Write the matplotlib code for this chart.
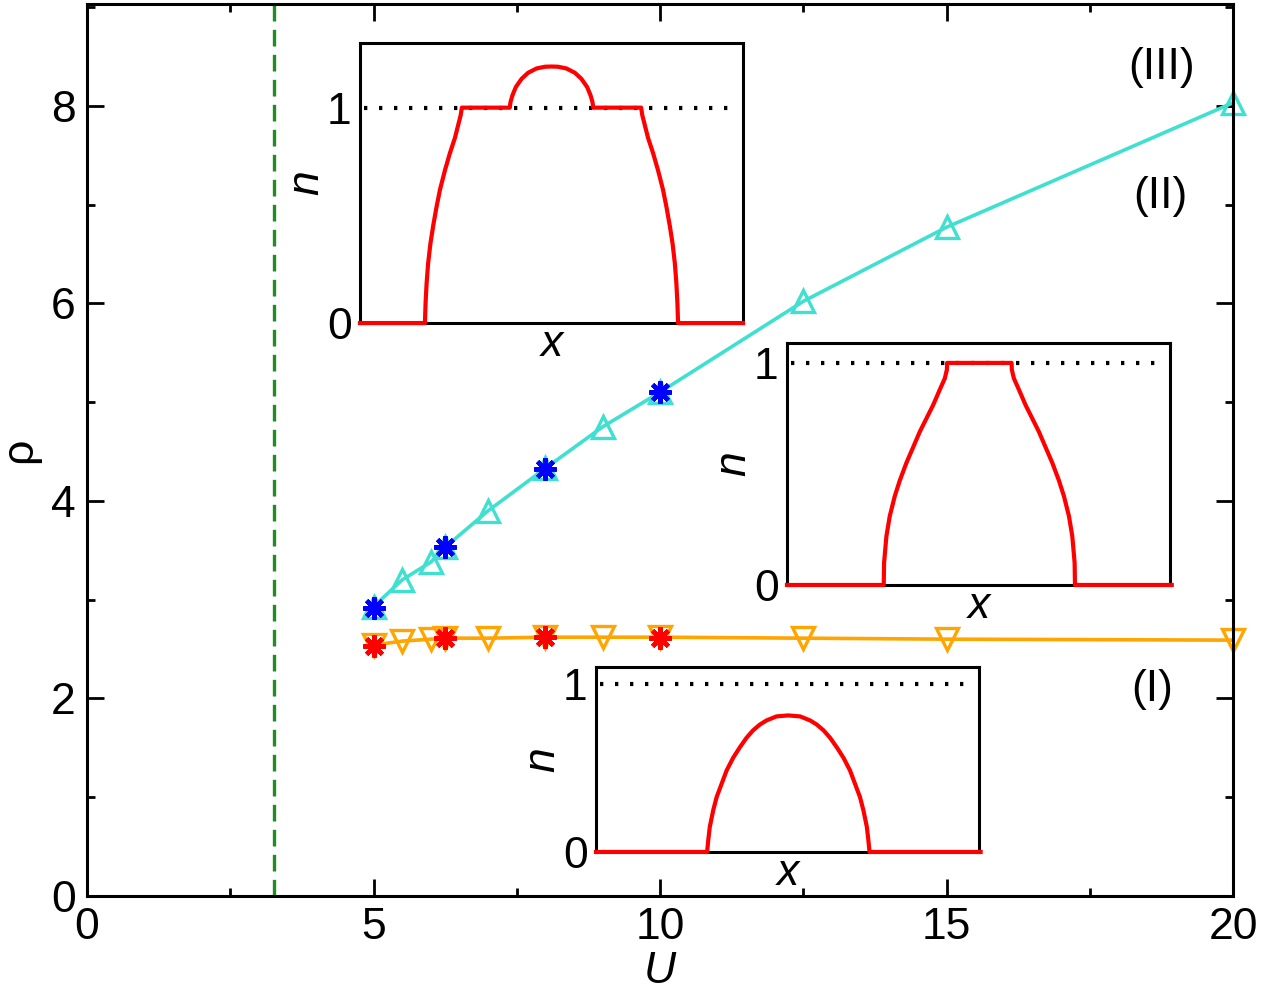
import matplotlib.pyplot as plt
from matplotlib.ticker import MultipleLocator

plt.rcParams['font.family'] = ['Liberation Sans', 'DejaVu Sans']

# main panel data
U_up = [5, 5.5, 6, 6.25, 7, 8, 9, 10, 12.5, 15, 20]
rho_up = [2.93, 3.2, 3.38, 3.53, 3.9, 4.33, 4.75, 5.1, 6.02, 6.77, 8.03]
U_down = [5, 5.5, 6, 6.25, 7, 8, 9, 10, 12.5, 15, 20]
rho_down = [2.54, 2.58, 2.6, 2.61, 2.61, 2.62, 2.62, 2.62, 2.61, 2.6, 2.59]
U_star = [5, 6.25, 8, 10]
rho_star_hi = [2.92, 3.53, 4.32, 5.10]
rho_star_lo = [2.53, 2.61, 2.62, 2.61]
U_crit = 3.27

# inset profiles, left halves (x as fraction of box width);
# the profiles are mirror symmetric so the right half reuses the same numbers
x1_left = [0, 0.1696, 0.1713, 0.174, 0.178, 0.184, 0.191, 0.2, 0.209, 0.222, 0.235, 0.248,
           0.2565, 0.263, 0.266, 0.391, 0.393, 0.398, 0.407, 0.422, 0.439, 0.461, 0.483, 0.5]
n1_left = [0, 0, 0.093, 0.185, 0.278, 0.37, 0.45, 0.54, 0.62, 0.71, 0.79, 0.86,
           0.92, 0.965, 1.0, 1.0, 1.026, 1.057, 1.096, 1.134, 1.162, 1.182, 1.19, 1.191]
x2_left = [0, 0.2526, 0.2535, 0.2596, 0.2683, 0.2814, 0.2944, 0.3118, 0.3293, 0.3467,
           0.3641, 0.3815, 0.399, 0.412, 0.4175, 0.418, 0.5022]
n2_left = [0, 0, 0.1, 0.22, 0.31, 0.40, 0.47, 0.55, 0.62, 0.69,
           0.75, 0.81, 0.88, 0.93, 0.97, 1.0, 1.0]
x3_left = [0, 0.29, 0.293, 0.297, 0.306, 0.315, 0.328, 0.341, 0.358, 0.376, 0.393, 0.41,
           0.428, 0.445, 0.471, 0.502]
n3_left = [0, 0, 0.07, 0.149, 0.248, 0.327, 0.406, 0.485, 0.56, 0.624, 0.679, 0.723,
           0.758, 0.782, 0.806, 0.812]


def mirror(xs, ns):
    c = xs[-1]
    return xs + [2 * c - v for v in xs[-2::-1]], ns + ns[-2::-1]


fig = plt.figure(figsize=(12.63, 9.94), dpi=100)
ax = fig.add_axes([0.0689, 0.0986, 0.9074, 0.8974])

ax.axvline(U_crit, color="#228B22", lw=2.4, dashes=(5, 2.5))
ax.plot(U_up, rho_up, color="#40E0D0", lw=2.6, marker="^", ms=16, mfc="none", mew=2.4,
        clip_on=False)
ax.plot(U_down, rho_down, color="#FFA500", lw=2.6, marker="v", ms=16, mfc="none", mew=2.4,
        clip_on=False)
ax.plot(U_star, rho_star_hi, ls="none", color="#0000FF", marker=(8, 2, 0), ms=16, mew=3.2)
ax.plot(U_star, rho_star_lo, ls="none", color="#FF0000", marker=(8, 2, 0), ms=16, mew=3.2)

ax.text(18.76, 8.39, "(III)", fontsize=32, ha="center", va="center")
ax.text(18.73, 7.08, "(II)", fontsize=32, ha="center", va="center")
ax.text(18.59, 2.09, "(I)", fontsize=32, ha="center", va="center")

ax.set_xlim(0, 20)
ax.set_ylim(0, 9.03)
ax.xaxis.set_major_locator(MultipleLocator(5))
ax.xaxis.set_minor_locator(MultipleLocator(2.5))
ax.yaxis.set_major_locator(MultipleLocator(2))
ax.yaxis.set_minor_locator(MultipleLocator(1))
ax.tick_params(which="both", direction="in", top=True, right=True, width=2, labelsize=32)
ax.tick_params(which="major", length=12, pad=8)
ax.tick_params(which="minor", length=6)
for s in ax.spines.values():
    s.set_linewidth(2.2)
ax.set_xlabel("U", fontsize=32, style="italic", labelpad=2)
ax.set_ylabel("ρ", fontsize=32, labelpad=8)


def inset(rect, xs, ns, top):
    a = fig.add_axes(rect)
    a.plot([0.01, 0.99], [1, 1], color="black", lw=3, dashes=(0.8, 2.8))
    a.plot(xs, ns, color="#FF0000", lw=3, clip_on=False, zorder=5)
    a.set_xlim(0, 1)
    a.set_ylim(0, top)
    a.set_xticks([])
    a.set_yticks([0, 1])
    a.tick_params(length=0, labelsize=32, pad=6)
    for s in a.spines.values():
        s.set_linewidth(2.2)
    a.set_xlabel("x", fontsize=32, style="italic", labelpad=1)
    a.set_ylabel("n", fontsize=32, style="italic", labelpad=0)
    return a


inset([0.285, 0.675, 0.3033, 0.2817], *mirror(x1_left, n1_left), 1.3)
inset([0.6231, 0.4115, 0.3033, 0.2435], *mirror(x2_left, n2_left), 1.09)
inset([0.4719, 0.1429, 0.3033, 0.1861], *mirror(x3_left, n3_left), 1.1)

fig.savefig("out.png", dpi=100)
